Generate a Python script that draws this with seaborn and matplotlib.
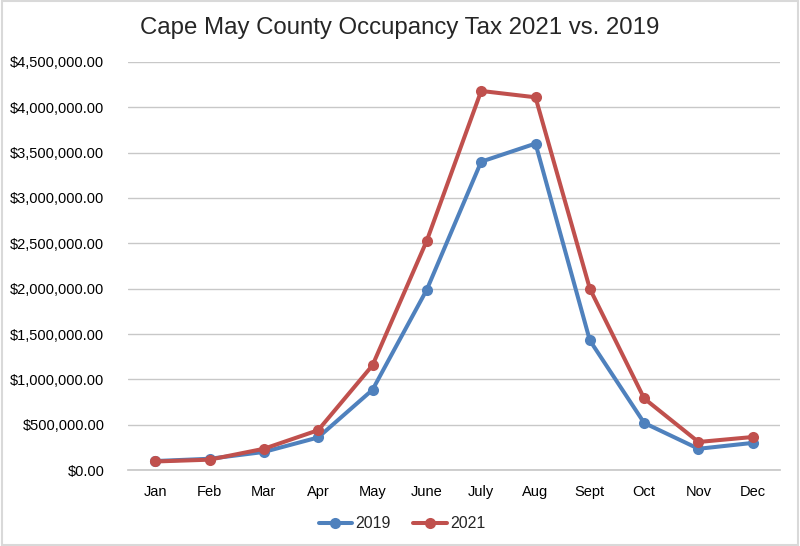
import pandas as pd
import matplotlib.pyplot as plt
import seaborn as sns
from matplotlib.ticker import FuncFormatter

# Monthly occupancy tax
months = ["Jan", "Feb", "Mar", "Apr", "May", "June", "July", "Aug", "Sept", "Oct", "Nov", "Dec"]
tax_2019 = [100000, 125000, 200000, 360000, 885000, 1990000, 3400000, 3600000, 1430000, 520000, 235000, 300000]
tax_2021 = [95000, 115000, 235000, 440000, 1155000, 2530000, 4180000, 4110000, 2000000, 790000, 310000, 365000]

df = pd.DataFrame({
    "Month": months * 2,
    "Tax": tax_2019 + tax_2021,
    "Year": ["2019"] * 12 + ["2021"] * 12,
})

sns.set_theme(style="whitegrid")
plt.rcParams["font.family"] = ["Liberation Sans", "DejaVu Sans"]

fig = plt.figure(figsize=(8, 5.46), dpi=100)
ax = fig.add_axes([0.16, 0.139, 0.815, 0.7476])

sns.lineplot(data=df, x="Month", y="Tax", hue="Year", sort=False,
             palette={"2019": "#4F81BD", "2021": "#C0504D"},
             marker="o", markersize=8, markeredgewidth=0, linewidth=2.9, ax=ax)

ax.set_xlim(-0.5, 11.5)
ax.set_ylim(0, 4500000)
ax.set_yticks(range(0, 4500001, 500000))
ax.yaxis.set_major_formatter(FuncFormatter(lambda v, _: f"${v:,.2f}"))
ax.grid(axis="x", visible=False)
ax.grid(axis="y", color="#C8C8C8", linewidth=1)
for side in ["left", "right", "top"]:
    ax.spines[side].set_visible(False)
ax.spines["bottom"].set_color("#C8C8C8")
ax.tick_params(axis="both", labelsize=10.5, colors="black", length=0)
ax.tick_params(axis="y", pad=17)
ax.tick_params(axis="x", pad=11)
ax.set_xlabel("")
ax.set_ylabel("")

fig.suptitle("Cape May County Occupancy Tax 2021 vs. 2019", fontsize=17.3, x=0.5, y=0.968)

ax.legend(loc="lower center", bbox_to_anchor=(0.42, -0.185), ncol=2, frameon=False,
          fontsize=11.5, handlelength=2.1, columnspacing=1.4, handletextpad=0.2)

# light grey frame around the whole picture
fig.patches.append(plt.Rectangle((0.002, 0.002), 0.996, 0.996, transform=fig.transFigure,
                                 fill=False, edgecolor="#D9D9D9", linewidth=1.5))

fig.savefig("out.png", dpi=100)
